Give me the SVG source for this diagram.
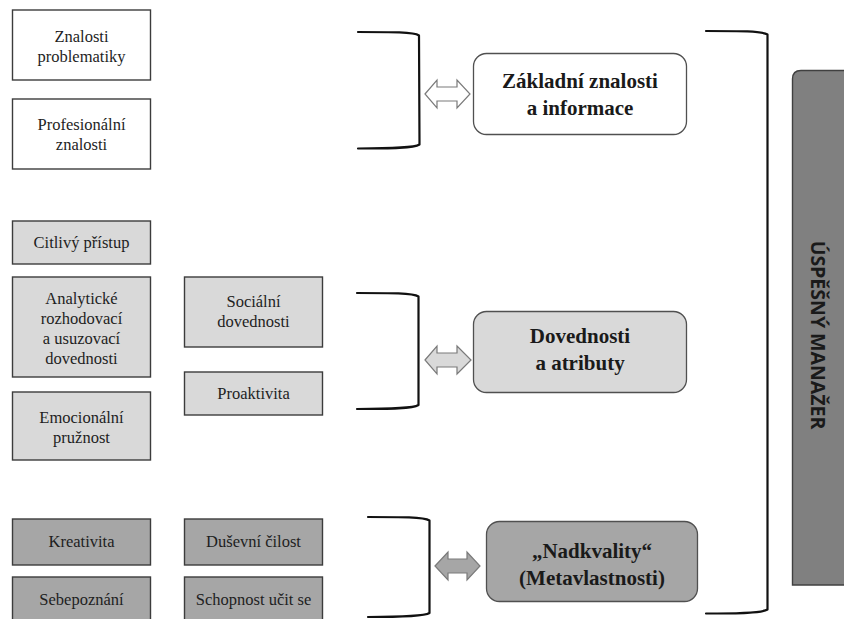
<svg xmlns="http://www.w3.org/2000/svg" width="844" height="619" viewBox="0 0 844 619">
  <style>
    .box { stroke: #3c3c3c; stroke-width: 1.4; }
    .lvl0 { fill: #ffffff; }
    .lvl1 { fill: #d9d9d9; }
    .lvl2 { fill: #a6a6a6; }
    .hub { stroke: #505050; stroke-width: 1.3; }
    .t { font-family: 'Liberation Serif', 'Times New Roman', serif; font-size: 16.5px; fill: #1e1e1e; text-anchor: middle; }
    .tb { font-family: 'Liberation Serif', 'Times New Roman', serif; font-size: 21px; font-weight: bold; fill: #1a1a1a; text-anchor: middle; }
    .brace { fill: none; stroke: #111; stroke-width: 2.2; stroke-linecap: round; stroke-linejoin: round; }
    .arrow { stroke: #7a7a7a; stroke-width: 1.2; }
    .vt { font-family: 'Open Sans', 'DejaVu Sans', sans-serif; font-size: 19.5px; font-weight: bold; fill: #1a1a1a; text-anchor: middle; }
  </style>

  <rect width="844" height="619" fill="#ffffff"/>

  <!-- Knowledge items -->
  <g id="znalosti-problematiky">
    <rect class="box lvl0" x="12.5" y="10" width="138" height="70"/>
    <text class="t" x="81.5" y="42">Znalosti</text>
    <text class="t" x="81.5" y="62">problematiky</text>
  </g>
  <g id="profesionalni-znalosti">
    <rect class="box lvl0" x="12.5" y="99" width="138" height="70"/>
    <text class="t" x="81.5" y="130">Profesionální</text>
    <text class="t" x="81.5" y="150">znalosti</text>
  </g>

  <!-- Skills and attributes -->
  <g id="citlivy-pristup">
    <rect class="box lvl1" x="12.5" y="221" width="138" height="43"/>
    <text class="t" x="81.5" y="248">Citlivý přístup</text>
  </g>
  <g id="analyticke">
    <rect class="box lvl1" x="12.5" y="277" width="138" height="100"/>
    <text class="t" x="81.5" y="304">Analytické</text>
    <text class="t" x="81.5" y="324">rozhodovací</text>
    <text class="t" x="81.5" y="344">a usuzovací</text>
    <text class="t" x="81.5" y="364">dovednosti</text>
  </g>
  <g id="emocionalni-pruznost">
    <rect class="box lvl1" x="12.5" y="392" width="138" height="68"/>
    <text class="t" x="81.5" y="423">Emocionální</text>
    <text class="t" x="81.5" y="443">pružnost</text>
  </g>
  <g id="socialni-dovednosti">
    <rect class="box lvl1" x="184.5" y="277" width="138" height="70"/>
    <text class="t" x="253.5" y="307">Sociální</text>
    <text class="t" x="253.5" y="327">dovednosti</text>
  </g>
  <g id="proaktivita">
    <rect class="box lvl1" x="184.5" y="372" width="138" height="43"/>
    <text class="t" x="253.5" y="399">Proaktivita</text>
  </g>

  <!-- Meta-qualities -->
  <g id="kreativita">
    <rect class="box lvl2" x="12.5" y="519" width="138" height="46"/>
    <text class="t" x="81.5" y="547">Kreativita</text>
  </g>
  <g id="dusevni-cilost">
    <rect class="box lvl2" x="184.5" y="519" width="138" height="46"/>
    <text class="t" x="253.5" y="547">Duševní čilost</text>
  </g>
  <g id="sebepoznani">
    <rect class="box lvl2" x="12.5" y="577" width="138" height="50"/>
    <text class="t" x="81.5" y="605">Sebepoznání</text>
  </g>
  <g id="schopnost-ucit-se">
    <rect class="box lvl2" x="184.5" y="577" width="138" height="50"/>
    <text class="t" x="253.5" y="605">Schopnost učit se</text>
  </g>

  <!-- Category hubs -->
  <g id="zakladni-znalosti">
    <rect class="hub lvl0" x="473.5" y="53.5" width="213" height="81" rx="13"/>
    <text class="tb" x="580" y="88">Základní znalosti</text>
    <text class="tb" x="580" y="115">a informace</text>
  </g>
  <g id="dovednosti-atributy">
    <rect class="hub lvl1" x="473.5" y="311.5" width="213" height="81" rx="13"/>
    <text class="tb" x="580" y="343">Dovednosti</text>
    <text class="tb" x="580" y="370">a atributy</text>
  </g>
  <g id="nadkvality">
    <rect class="hub lvl2" x="486.5" y="521.5" width="211" height="80" rx="13"/>
    <text class="tb" x="592" y="558">„Nadkvality“</text>
    <text class="tb" x="592" y="585">(Metavlastnosti)</text>
  </g>

  <!-- Result -->
  <g id="uspesny-manazer">
    <path d="M792.5,585 L792.5,79 Q792.5,70.5 801,70.5 L850,70.5 L850,585 Z" fill="#808080" stroke="#404040" stroke-width="1.4"/>
    <text class="vt" transform="translate(811,335) rotate(90)">ÚSPĚŠNÝ MANAŽER</text>
  </g>

  <!-- Connectors: grouping braces and double arrows -->
  <g id="connectors">
    <path class="brace" d="M358,32 C392,32 414,32 419,35.5 L419.5,144.5 C414,148 392,148.5 358,148.5"/>
    <path class="brace" d="M357,293 C391,293 413,293 418.5,296.5 L418.5,405 C413,408.5 391,409 357,409"/>
    <path class="brace" d="M368,517 C401,517 424,517 429.5,520.5 L429.5,613 C424,616.5 401,617 368,617"/>
    <path class="brace" d="M706,31 C740,31 762,31 767.5,34.5 L767.5,609.5 C762,613 740,613.5 706,613.5"/>

    <polygon class="arrow" fill="#ffffff" points="425,94 437,80 437,87 457,87 457,80 470,94 457,108 457,101 437,101 437,108"/>
    <polygon class="arrow" fill="#d9d9d9" points="425,360 437,346 437,353 457,353 457,346 471,360 457,374 457,367 437,367 437,374"/>
    <polygon class="arrow" fill="#a6a6a6" points="435,566 448,552 448,559 467,559 467,552 480,566 467,580 467,573 448,573 448,580"/>
  </g>
</svg>
